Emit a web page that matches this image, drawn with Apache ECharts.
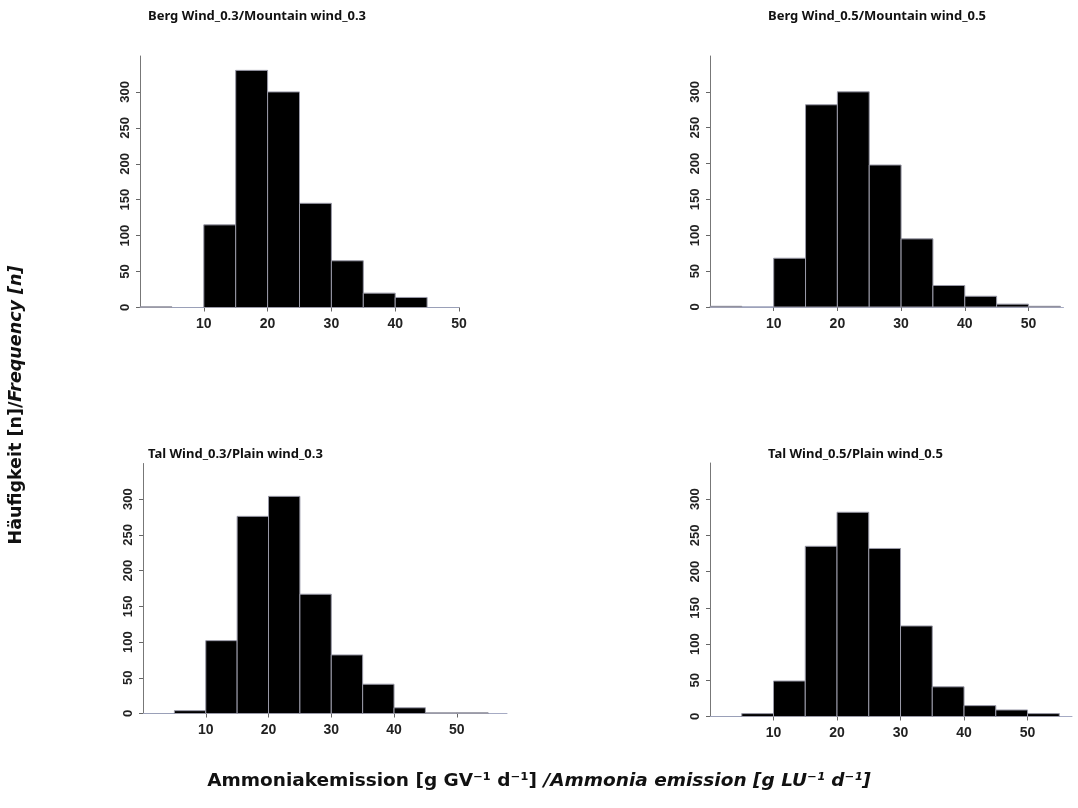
<!DOCTYPE html>
<html><head><meta charset="utf-8">
<script src="https://cdn.jsdelivr.net/npm/echarts@6/dist/echarts.min.js"></script>
<style>html,body{margin:0;padding:0;background:#fff}#c{width:1078px;height:808px}</style>
</head><body><div id="c"></div>
<script>
// ---- data ----
const binEdges = [0, 5, 10, 15, 20, 25, 30, 35, 40, 45, 50, 55];
const panelTitles = [
  'Berg Wind_0.3/Mountain wind_0.3',
  'Berg Wind_0.5/Mountain wind_0.5',
  'Tal Wind_0.3/Plain wind_0.3',
  'Tal Wind_0.5/Plain wind_0.5'
];
const countsBerg03 = [1, 0, 115, 330, 300, 145, 65, 20, 14, 0];
const countsBerg05 = [1, 0, 68, 282, 300, 198, 95, 30, 15, 4, 1];
const countsTal03  = [0, 4, 102, 276, 304, 167, 82, 41, 8, 1, 1];
const countsTal05  = [0, 4, 49, 235, 282, 232, 125, 41, 15, 9, 4];
const xTicks = [10, 20, 30, 40, 50];
const yTicks = [0, 50, 100, 150, 200, 250, 300];
const yLabelBold = 'Häufigkeit [n]/';
const yLabelItalic = 'Frequency [n]';
const xLabelBold = 'Ammoniakemission [g GV⁻¹ d⁻¹] ';
const xLabelItalic = '/Ammonia emission [g LU⁻¹ d⁻¹]';

// ---- layout ----
const allCounts = [countsBerg03, countsBerg05, countsTal03, countsTal05];
const grids = [
  {left: 140, top: 56, width: 319, height: 251.5},
  {left: 710, top: 56, width: 353.5, height: 251},
  {left: 143, top: 463.5, width: 364, height: 250},
  {left: 710, top: 463, width: 362, height: 253.5}
];
const xMax = [50, 55.5, 58, 57];
const titlePos = [[143, 5], [763, 5], [143, 443], [763, 443]];

const fontAx = 'Liberation Sans, Arial, sans-serif';
const fontName = 'DejaVu Sans, sans-serif';
const fontTitle = 'Noto Sans, sans-serif';
const xAxes = [], yAxes = [], series = [], titles = [];
grids.forEach((g, i) => {
  xAxes.push({
    type: 'value', gridIndex: i, min: 0, max: xMax[i],
    splitLine: {show: false},
    axisLine: {show: true, onZero: false, lineStyle: {color: '#a6abc4', width: 1}},
    axisTick: {show: true, length: 4, customValues: xTicks, lineStyle: {color: '#666'}},
    axisLabel: {customValues: xTicks, margin: 10, fontFamily: fontAx, fontWeight: 'bold', fontSize: 14, color: '#222'}
  });
  yAxes.push({
    type: 'value', gridIndex: i, min: 0, max: 350,
    splitLine: {show: false},
    axisLine: {show: true, lineStyle: {color: '#777', width: 1}},
    axisTick: {show: true, length: 4, customValues: yTicks, lineStyle: {color: '#666'}},
    axisLabel: {customValues: yTicks, rotate: 90, margin: 8, fontFamily: fontAx, fontWeight: 'bold', fontSize: 13, color: '#222'}
  });
  const data = allCounts[i].map((c, k) => [binEdges[k], binEdges[k + 1], c]);
  series.push({
    type: 'custom', xAxisIndex: i, yAxisIndex: i, data: data,
    encode: {x: [0, 1], y: 2},
    renderItem: function (params, api) {
      const a = api.value(0), b = api.value(1), c = api.value(2);
      const p0 = api.coord([a, c]);
      const p1 = api.coord([b, 0]);
      return {
        type: 'rect',
        shape: {x: p0[0], y: p0[1], width: p1[0] - p0[0], height: p1[1] - p0[1]},
        style: {fill: c > 0 ? '#000' : 'none', stroke: c > 0 ? '#9a9aa8' : '#9aa0b8', lineWidth: 1}
      };
    }
  });
  titles.push({
    text: panelTitles[i], left: titlePos[i][0], top: titlePos[i][1],
    textStyle: {fontFamily: fontTitle, fontWeight: 'bold', fontSize: 13, color: '#111'}
  });
});

const chart = echarts.init(document.getElementById('c'), null, {renderer: 'canvas'});
chart.setOption({
  animation: false,
  backgroundColor: '#fff',
  title: titles,
  grid: grids,
  xAxis: xAxes,
  yAxis: yAxes,
  series: series,
  graphic: [
    {
      type: 'text', x: 16, y: 405, rotation: Math.PI / 2,
      style: {
        text: '{b|' + yLabelBold + '}{i|' + yLabelItalic + '}',
        align: 'center', verticalAlign: 'middle',
        rich: {
          b: {fontFamily: fontName, fontWeight: 'bold', fontSize: 17.5, fill: '#111'},
          i: {fontFamily: fontName, fontWeight: 'bold', fontStyle: 'italic', fontSize: 17.5, fill: '#111'}
        }
      }
    },
    {
      type: 'text', x: 539, y: 781,
      style: {
        text: '{b|' + xLabelBold + '}{i|' + xLabelItalic + '}',
        align: 'center', verticalAlign: 'middle',
        rich: {
          b: {fontFamily: fontName, fontWeight: 'bold', fontSize: 18.5, fill: '#111'},
          i: {fontFamily: fontName, fontWeight: 'bold', fontStyle: 'italic', fontSize: 18.5, fill: '#111'}
        }
      }
    }
  ]
});
</script></body></html>
